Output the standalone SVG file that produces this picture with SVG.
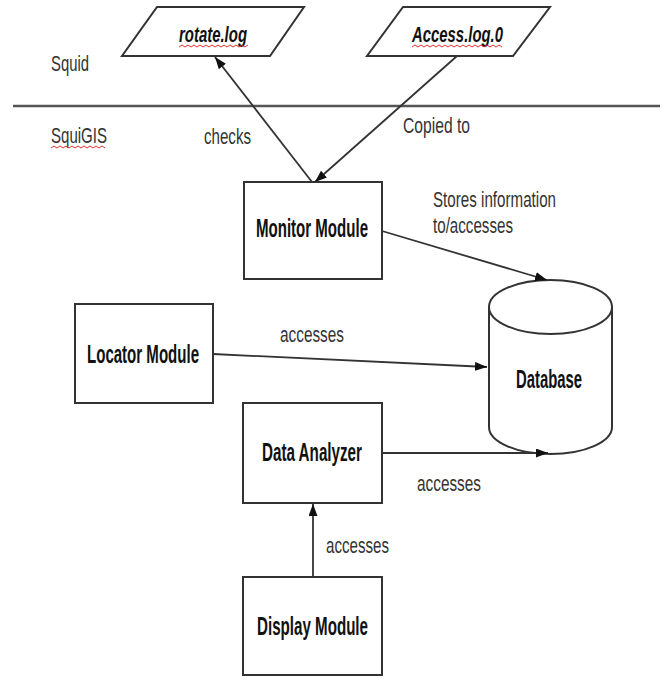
<svg xmlns="http://www.w3.org/2000/svg" width="665" height="677" viewBox="0 0 665 677">
<style>
.shape{fill:#fff;stroke:#333;stroke-width:2}
.conn{fill:none;stroke:#333;stroke-width:1.8}
.lbl{font-family:"Liberation Sans",Arial,sans-serif;font-size:22px;fill:#333}
.bold{font-family:"Liberation Sans",Arial,sans-serif;font-size:25px;font-weight:bold;fill:#111}
.file{font-family:"Liberation Sans",Arial,sans-serif;font-size:22px;font-weight:bold;font-style:italic;fill:#111}
.squig{fill:none;stroke:#e03030;stroke-width:1}
</style>
<defs>
<marker id="arr" markerUnits="userSpaceOnUse" markerWidth="13" markerHeight="10" refX="12" refY="4.5" orient="auto">
<path d="M0,0 L12,4.5 L0,9 z" fill="#111"/>
</marker>
</defs>
<rect width="665" height="677" fill="#fff"/>
<line x1="13" y1="106" x2="660" y2="106" stroke="#555" stroke-width="2.5"/>
<text class="lbl" x="51" y="71" textLength="38" lengthAdjust="spacingAndGlyphs">Squid</text>
<text class="lbl" x="51" y="143" textLength="56" lengthAdjust="spacingAndGlyphs">SquiGIS</text>
<path class="squig" d="M51,148 l3,-2 l3,2 l3,-2 l3,2 l3,-2 l3,2 l3,-2 l3,2 l3,-2 l3,2 l3,-2 l3,2 l3,-2 l3,2 l3,-2 l3,2 l3,-2 l3,2"/>
<g id="rotate">
<polygon class="shape" points="157,7 304,7 270,56 122,56"/>
<text class="file" x="179" y="42" textLength="68" lengthAdjust="spacingAndGlyphs">rotate.log</text>
<path class="squig" d="M179,47 l3,-2 l3,2 l3,-2 l3,2 l3,-2 l3,2 l3,-2 l3,2 l3,-2 l3,2 l3,-2 l3,2 l3,-2 l3,2 l3,-2 l3,2 l3,-2 l3,2 l3,-2 l3,2 l3,-2 l3,2 l3,-2"/>
</g>
<g id="access">
<polygon class="shape" points="403,7 550,7 513,56 367,56"/>
<text class="file" x="412" y="42" textLength="91" lengthAdjust="spacingAndGlyphs">Access.log.0</text>
<path class="squig" d="M412,47 l3,-2 l3,2 l3,-2 l3,2 l3,-2 l3,2 l3,-2 l3,2 l3,-2 l3,2 l3,-2 l3,2 l3,-2 l3,2 l3,-2 l3,2 l3,-2 l3,2 l3,-2 l3,2 l3,-2 l3,2 l3,-2 l3,2 l3,-2 l3,2 l3,-2 l3,2 l3,-2 l3,2"/>
</g>
<g id="monitor">
<rect class="shape" x="244" y="182" width="138" height="97"/>
<text class="bold" x="256" y="237" textLength="112" lengthAdjust="spacingAndGlyphs">Monitor Module</text>
</g>
<g id="locator">
<rect class="shape" x="75" y="304" width="138" height="99"/>
<text class="bold" x="87" y="363" textLength="112" lengthAdjust="spacingAndGlyphs">Locator Module</text>
</g>
<g id="analyzer">
<rect class="shape" x="243" y="403" width="139" height="100"/>
<text class="bold" x="262" y="461" textLength="100" lengthAdjust="spacingAndGlyphs">Data Analyzer</text>
</g>
<g id="display">
<rect class="shape" x="243" y="577" width="139" height="98"/>
<text class="bold" x="257" y="635" textLength="111" lengthAdjust="spacingAndGlyphs">Display Module</text>
</g>
<g id="database">
<path class="shape" d="M489,307 L489,427 A61.5,27 0 0 0 612,427 L612,307"/>
<ellipse class="shape" cx="550.5" cy="307" rx="61.5" ry="27"/>
<text class="bold" x="516" y="388" textLength="66" lengthAdjust="spacingAndGlyphs">Database</text>
</g>
<g id="connectors">
<line class="conn" x1="312" y1="182" x2="215" y2="57" marker-end="url(#arr)"/>
<line class="conn" x1="457" y1="56" x2="315" y2="182" marker-end="url(#arr)"/>
<line class="conn" x1="382" y1="231" x2="547" y2="280" marker-end="url(#arr)"/>
<line class="conn" x1="213" y1="354" x2="487" y2="367" marker-end="url(#arr)"/>
<line class="conn" x1="382" y1="453" x2="548" y2="453" marker-end="url(#arr)"/>
<line class="conn" x1="313" y1="577" x2="313" y2="504" marker-end="url(#arr)"/>
<text class="lbl" x="204" y="144" textLength="47" lengthAdjust="spacingAndGlyphs">checks</text>
<text class="lbl" x="403" y="133" textLength="67" lengthAdjust="spacingAndGlyphs">Copied to</text>
<text class="lbl" x="433" y="207" textLength="123" lengthAdjust="spacingAndGlyphs">Stores information</text>
<text class="lbl" x="433" y="233" textLength="80" lengthAdjust="spacingAndGlyphs">to/accesses</text>
<text class="lbl" x="280" y="342" textLength="64" lengthAdjust="spacingAndGlyphs">accesses</text>
<text class="lbl" x="417" y="491" textLength="64" lengthAdjust="spacingAndGlyphs">accesses</text>
<text class="lbl" x="326" y="553" textLength="63" lengthAdjust="spacingAndGlyphs">accesses</text>
</g>
</svg>
